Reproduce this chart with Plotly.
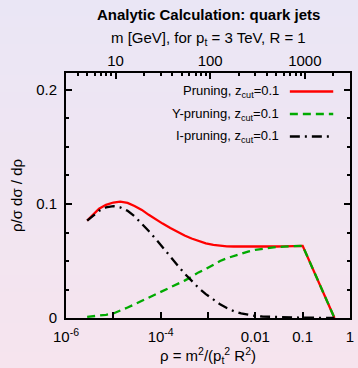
import plotly.graph_objects as go

# ---- data ----
rho = [2.8e-6, 4e-6, 5e-6, 7e-6, 1e-5, 1.4e-5, 2e-5, 2.8e-5, 4e-5, 5.6e-5, 8e-5,
       1.1e-4, 1.6e-4, 2.2e-4, 3.2e-4, 4.5e-4, 6.3e-4, 9e-4, 1.3e-3, 1.8e-3, 2.5e-3,
       3.5e-3, 5e-3, 7e-3, 1e-2, 1.4e-2, 2e-2, 2.8e-2, 4e-2, 5.6e-2, 8e-2, 0.1, 0.47]
pruning = [0.0854, 0.0916, 0.0958, 0.0993, 0.1013, 0.1020, 0.1010, 0.0983, 0.0948, 0.0905,
           0.0862, 0.0828, 0.0789, 0.0757, 0.0724, 0.0697, 0.0674, 0.0655, 0.0642, 0.0634,
           0.0629, 0.0627, 0.0626, 0.0625, 0.0625, 0.0625, 0.0626, 0.0627, 0.0628, 0.0630,
           0.0632, 0.0633, 0.0]
y_pruning = [0.0010, 0.0015, 0.0020, 0.0028, 0.0040, 0.0062, 0.0092, 0.0120, 0.0150, 0.0178,
             0.0206, 0.0233, 0.0264, 0.0292, 0.0328, 0.0362, 0.0400, 0.0430, 0.0470, 0.0500,
             0.0524, 0.0545, 0.0566, 0.0583, 0.0598, 0.0608, 0.0616, 0.0622, 0.0626, 0.0629,
             0.0632, 0.0633, 0.0]
i_pruning = [0.0854, 0.0912, 0.0940, 0.0970, 0.0982, 0.0970, 0.0940, 0.0893, 0.0830, 0.0763,
             0.0690, 0.0618, 0.0538, 0.0470, 0.0390, 0.0323, 0.0265, 0.0210, 0.0158, 0.0120,
             0.0088, 0.0060, 0.0040, 0.0027, 0.0018, 0.0013, 0.0010, 0.0008, 0.0006, 0.0005,
             0.0004, 0.0004, 0.0]

series_names = ["Pruning, z<sub>cut</sub>=0.1", "Y-pruning, z<sub>cut</sub>=0.1",
                "I-pruning, z<sub>cut</sub>=0.1"]
bottom_tickvals = [1e-6, 1e-5, 1e-4, 1e-3, 1e-2, 1e-1, 1]
bottom_ticktext = ["10<sup>-6</sup>", "", "10<sup>-4</sup>", "", "0.01", "0.1", "1"]
top_tickvals = [10, 100, 1000]
top_ticktext = ["10", "100", "1000"]
top_minor = [4, 5, 6, 7, 8, 9, 20, 30, 40, 50, 60, 70, 80, 90,
             200, 300, 400, 500, 600, 700, 800, 900, 2000, 3000]
m_range = [3, 3000]  # m = 3000 GeV * sqrt(rho), rho in [1e-6, 1]

colors = ["#ff0000", "#00aa00", "#000000"]
dashes = ["solid", "8px,5px", "10px,5px,2px,5px"]
values = [pruning, y_pruning, i_pruning]

FONT = "Liberation Sans, Arial, sans-serif"

fig = go.Figure()
for v, c, d, n in zip(values, colors, dashes, series_names):
    fig.add_trace(go.Scatter(x=rho, y=v, mode="lines", name=n,
                             line=dict(color=c, width=2.3, dash=d),
                             showlegend=False, hoverinfo="skip"))
# dummy trace to activate top axis
fig.add_trace(go.Scatter(x=m_range, y=[0, 0], xaxis="x2", yaxis="y", mode="none",
                         showlegend=False, hoverinfo="skip"))

# background gradient bands
W, H = 358, 368
L, R, T, B = 66, 4, 73, 50
ph = H - T - B
top_c = (234, 230, 245)
bot_c = (246, 228, 238)
shapes = []
N = 92
for i in range(N):
    py0 = i * H / N
    py1 = (i + 1) * H / N
    f = (i + 0.5) / N
    col = tuple(round(top_c[k] + (bot_c[k] - top_c[k]) * f) for k in range(3))
    shapes.append(dict(type="rect", xref="paper", yref="paper",
                       x0=-1, x1=2, y0=(H - B - py1) / ph, y1=(H - B - py0) / ph + 0.001,
                       fillcolor="rgb(%d,%d,%d)" % col, line=dict(width=0), layer="below"))

# legend (gnuplot style: text right, sample line on the right)
pw = W - L - R
leg_y = [91.5, 114, 136.5]
annotations = []
for n, c, d, py in zip(series_names, colors, dashes, leg_y):
    yp = (H - B - py) / ph
    annotations.append(dict(text=n, xref="paper", yref="paper", x=(284 - L) / pw, y=yp,
                            xanchor="right", yanchor="middle", showarrow=False,
                            font=dict(family=FONT, size=13, color="#000")))
    shapes.append(dict(type="line", xref="paper", yref="paper",
                       x0=(293 - L) / pw, x1=(337 - L) / pw, y0=yp, y1=yp,
                       line=dict(color=c, width=2.5, dash=d)))

annotations.append(dict(text="<b>Analytic Calculation: quark jets</b>", xref="paper",
                        yref="paper", x=0.5, y=(H - B - 14) / ph, xanchor="center",
                        yanchor="middle", showarrow=False,
                        font=dict(family=FONT, size=15, color="#000")))
annotations.append(dict(text="m [GeV], for p<sub>t</sub> = 3 TeV, R = 1", xref="paper",
                        yref="paper", x=0.5, y=(H - B - 38) / ph, xanchor="center",
                        yanchor="middle", showarrow=False,
                        font=dict(family=FONT, size=15, color="#000")))

fig.update_layout(
    width=W, height=H,
    margin=dict(l=L, r=R, t=T, b=B, pad=0),
    paper_bgcolor="rgb(240,229,241)",
    plot_bgcolor="rgba(0,0,0,0)",
    font=dict(family=FONT, size=15, color="#000"),
    shapes=shapes,
    annotations=annotations,
    xaxis=dict(type="log", range=[-6, 0], tickmode="array", tickvals=bottom_tickvals,
               ticktext=bottom_ticktext, ticks="inside", ticklen=6, tickwidth=1.5,
               tickcolor="#000", showline=True, linecolor="#000", linewidth=2,
               mirror=True, showgrid=False, zeroline=False, ticklabelstandoff=4,
               title=dict(text="ρ = m<sup>2</sup>/(p<sub>t</sub><sup>2</sup> R<sup>2</sup>)",
                          standoff=2, font=dict(size=15))),
    xaxis2=dict(type="log", range=[0.47712, 3.47712], overlaying="x", side="top",
                anchor="y", tickmode="array", tickvals=top_tickvals, ticktext=top_ticktext,
                ticks="inside", ticklen=6, tickwidth=1.5, tickcolor="#000",
                minor=dict(tickmode="array", tickvals=top_minor, ticks="inside",
                           ticklen=3, tickwidth=1.5, tickcolor="#000"),
                showline=False, showgrid=False, zeroline=False, ticklabelstandoff=3),
    yaxis=dict(range=[0, 0.2149], tickmode="array", tickvals=[0, 0.1, 0.2],
               ticktext=["0", "0.1", "0.2"], ticks="inside", ticklen=6, tickwidth=1.5,
               tickcolor="#000",
               minor=dict(dtick=0.025, tick0=0, ticks="inside", ticklen=3, tickwidth=1.5,
                          tickcolor="#000"),
               showline=True, linecolor="#000", linewidth=2, mirror="ticks",
               showgrid=False, zeroline=False, ticklabelstandoff=4,
               title=dict(text="ρ/σ dσ / dρ", standoff=10, font=dict(size=15))),
)

fig.write_html("out.html")
